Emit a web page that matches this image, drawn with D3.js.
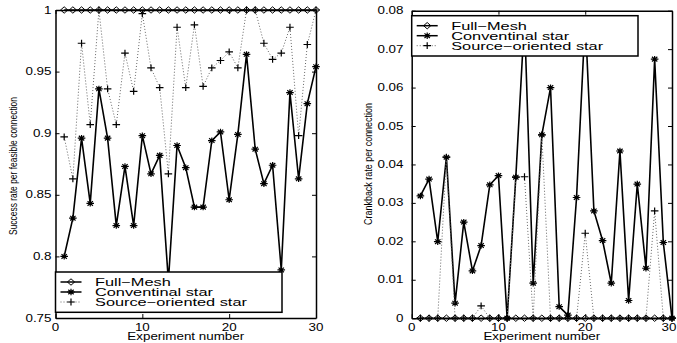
<!DOCTYPE html>
<html><head><meta charset="utf-8">
<script src="https://cdn.jsdelivr.net/npm/d3@7"></script>
<style>
html,body{margin:0;padding:0;background:#fff;}
svg{display:block;}
text{font-family:"Liberation Sans",Arial,Helvetica,sans-serif;fill:#000;}
</style></head>
<body><svg id="chart" width="677" height="343"></svg>
<script>
// ---------- data ----------
const experiments = [1,2,3,4,5,6,7,8,9,10,11,12,13,14,15,16,17,18,19,20,21,22,23,24,25,26,27,28,29,30];
const seriesNames = ["Full\u2212Mesh", "Conventinal star", "Source\u2212oriented star"];

const successFullMesh = [1,1,1,1,1,1,1,1,1,1,1,1,1,1,1,1,1,1,1,1,1,1,1,1,1,1,1,1,1,1];
const successConventional = [0.800,0.831,0.896,0.843,0.936,0.896,0.825,0.873,0.825,0.898,0.867,0.882,0.780,0.890,0.872,0.840,0.840,0.894,0.901,0.846,0.899,0.964,0.887,0.859,0.874,0.789,0.933,0.863,0.924,0.954];
const successSource = [0.897,0.863,0.973,0.907,1.000,0.936,0.907,0.965,0.934,0.997,0.953,0.937,0.867,0.986,0.937,0.988,0.938,0.953,0.959,0.966,0.953,1.000,1.000,0.973,0.960,0.965,0.986,0.898,0.972,1.000];

const crankFullMesh = [0,0,0,0,0,0,0,0,0,0,0,0,0,0,0,0,0,0,0,0,0,0,0,0,0,0,0,0,0,0];
const crankConventional = [0.0318,0.0362,0.0199,0.0419,0.0039,0.0250,0.0123,0.0189,0.0347,0.0371,0,0.0367,0.078,0.0091,0.0477,0.0600,0.0030,0.0008,0.0314,0.078,0.0279,0.0202,0.0091,0.0435,0.0046,0.0349,0.0130,0.0674,0.0197,0];
const crankSource = [0,0,0,0.0419,0,0,0,0.0032,0,0,0,0.0367,0.0368,0,0.0477,0,0,0,0,0.0221,0,0,0,0,0,0,0,0.0279,0,0];

const xTicks = [0,10,20,30];
const successTicks = [0.75,0.8,0.85,0.9,0.95,1];
const successTickLabels = ["0.75","0.8","0.85","0.9","0.95","1"];
const crankTicks = [0,0.01,0.02,0.03,0.04,0.05,0.06,0.07,0.08];
const crankTickLabels = ["0","0.01","0.02","0.03","0.04","0.05","0.06","0.07","0.08"];
const xLabel = "Experiment number";
const successYLabel = "Success rate per feasible connection";
const crankYLabel = "Crankback rate per connection";

// ---------- drawing ----------
const W = 677;
const svg = d3.select("#chart");
const SX = 1.34; // horizontal stretch of the original text

function stext(g, x, y, str, size, anchor, sx) {
  return g.append("text")
    .attr("transform", `translate(${x},${y}) scale(${sx||SX},1)`)
    .attr("text-anchor", anchor || "start")
    .attr("font-size", size)
    .text(str);
}

function diamond(g, x, y) {
  g.append("path").attr("d", `M${x-3.6},${y}L${x},${y-3.2}L${x+3.6},${y}L${x},${y+3.2}Z`)
    .attr("fill", "none").attr("stroke", "#000").attr("stroke-width", 1);
}
function asterisk(g, x, y) {
  const w = 3.8, h = 3.2, dw = 2.7, dh = 2.3;
  g.append("path").attr("d",
    `M${x-w},${y}L${x+w},${y}M${x},${y-h}L${x},${y+h}M${x-dw},${y-dh}L${x+dw},${y+dh}M${x-dw},${y+dh}L${x+dw},${y-dh}`)
    .attr("stroke", "#000").attr("stroke-width", 1.2).attr("fill", "none");
}
function plus(g, x, y) {
  g.append("path").attr("d", `M${x-3.8},${y}L${x+3.8},${y}M${x},${y-3.4}L${x},${y+3.4}`)
    .attr("stroke", "#000").attr("stroke-width", 1.2).attr("fill", "none");
}

function panel(cfg) {
  const g = svg.append("g");
  const x = d3.scaleLinear().domain([0, 30]).range([cfg.x0, cfg.x1]);
  const y = d3.scaleLinear().domain(cfg.yDomain).range([cfg.y0, cfg.y1]);
  const clipId = "clip" + cfg.id;
  svg.append("clipPath").attr("id", clipId).append("rect")
    .attr("x", cfg.x0 - 5).attr("y", cfg.y1 - 5).attr("width", cfg.x1 - cfg.x0 + 10).attr("height", cfg.y0 - cfg.y1 + 10);

  // axes (ticks inside, box on)
  const tk = 4;
  g.append("g").attr("transform", `translate(0,${cfg.y0})`)
    .call(d3.axisBottom(x).tickValues(xTicks).tickFormat("").tickSizeInner(-tk).tickSizeOuter(0));
  g.append("g").attr("transform", `translate(0,${cfg.y1})`)
    .call(d3.axisTop(x).tickValues(xTicks).tickFormat("").tickSizeInner(-tk).tickSizeOuter(0));
  g.append("g").attr("transform", `translate(${cfg.x0},0)`)
    .call(d3.axisLeft(y).tickValues(cfg.yTicks).tickFormat("").tickSizeInner(-tk).tickSizeOuter(0));
  g.append("g").attr("transform", `translate(${cfg.x1},0)`)
    .call(d3.axisRight(y).tickValues(cfg.yTicks).tickFormat("").tickSizeInner(-tk).tickSizeOuter(0));
  g.selectAll(".domain").attr("stroke", "#000").attr("stroke-width", 1.5);
  g.selectAll(".tick line").attr("stroke", "#000").attr("stroke-width", 1);

  // tick labels (keep the last one inside the page)
  xTicks.forEach(t => {
    const px = x(t);
    if (px + 8 > W) stext(g, W - 0.5, cfg.y0 + 12.5, String(t), 10, "end");
    else stext(g, px, cfg.y0 + 12.5, String(t), 10, "middle");
  });
  cfg.yTicks.forEach((t, i) => stext(g, cfg.labelRight, y(t) + 3.6, cfg.yTickLabels[i], 10, "end"));

  // axis titles
  stext(g, (cfg.x0 + cfg.x1) / 2, 340, xLabel, 10, "middle");
  g.append("text")
    .attr("transform", `translate(${cfg.yLabelX},${cfg.yLabelY}) rotate(-90) scale(1,1.3)`)
    .attr("text-anchor", "middle").attr("font-size", 8.7)
    .attr("textLength", cfg.yLabelLen).attr("lengthAdjust", "spacingAndGlyphs")
    .text(cfg.yLabel);

  // series
  const pg = g.append("g").attr("clip-path", `url(#${clipId})`);
  const line = d3.line().x((d, i) => x(experiments[i])).y(d => y(d));
  pg.append("path").datum(cfg.full).attr("d", line).attr("fill", "none").attr("stroke", "#000").attr("stroke-width", 1.5);
  cfg.full.forEach((v, i) => diamond(pg, x(experiments[i]), y(v)));
  pg.append("path").datum(cfg.conv).attr("d", line).attr("fill", "none").attr("stroke", "#000").attr("stroke-width", 1.6);
  cfg.conv.forEach((v, i) => asterisk(pg, x(experiments[i]), y(v)));
  pg.append("path").datum(cfg.src).attr("d", line).attr("fill", "none").attr("stroke", "#666")
    .attr("stroke-width", 1).attr("stroke-dasharray", "1,2");
  cfg.src.forEach((v, i) => plus(pg, x(experiments[i]), y(v)));

  // legend
  const L = cfg.legend;
  const lg = g.append("g");
  lg.append("rect").attr("x", L.x).attr("y", L.y).attr("width", L.w).attr("height", L.h)
    .attr("fill", "#fff").attr("stroke", "#000").attr("stroke-width", 1.5);
  seriesNames.forEach((name, i) => {
    const cy = L.y + 10 + i * 10;
    const lx0 = L.x + 5, lx1 = L.x + 26, mx = (lx0 + lx1) / 2;
    const ln = lg.append("line").attr("x1", lx0).attr("x2", lx1).attr("y1", cy).attr("y2", cy)
      .attr("stroke", i === 2 ? "#666" : "#000").attr("stroke-width", i === 2 ? 1 : 1.5);
    if (i === 2) ln.attr("stroke-dasharray", "1,2");
    if (i === 0) diamond(lg, mx, cy); else if (i === 1) asterisk(lg, mx, cy); else plus(lg, mx, cy);
    stext(lg, L.x + 39.5, cy + 4, name, 11.5, "start", 1.42);
  });
}

panel({
  id: "A", x0: 55.5, x1: 316, y0: 318, y1: 10,
  yDomain: [0.75, 1], yTicks: successTicks, yTickLabels: successTickLabels,
  labelRight: 51.5, yLabel: successYLabel, yLabelX: 16.5, yLabelY: 166, yLabelLen: 138,
  full: successFullMesh, conv: successConventional, src: successSource,
  legend: { x: 55.5, y: 272, w: 226.5, h: 40.3 }
});
panel({
  id: "B", x0: 411.7, x1: 672, y0: 318.2, y1: 10.7,
  yDomain: [0, 0.08], yTicks: crankTicks, yTickLabels: crankTickLabels,
  labelRight: 403.5, yLabel: crankYLabel, yLabelX: 371.5, yLabelY: 164, yLabelLen: 122,
  full: crankFullMesh, conv: crankConventional, src: crankSource,
  legend: { x: 411.7, y: 15.7, w: 226.3, h: 40.3 }
});
</script>
</body></html>
